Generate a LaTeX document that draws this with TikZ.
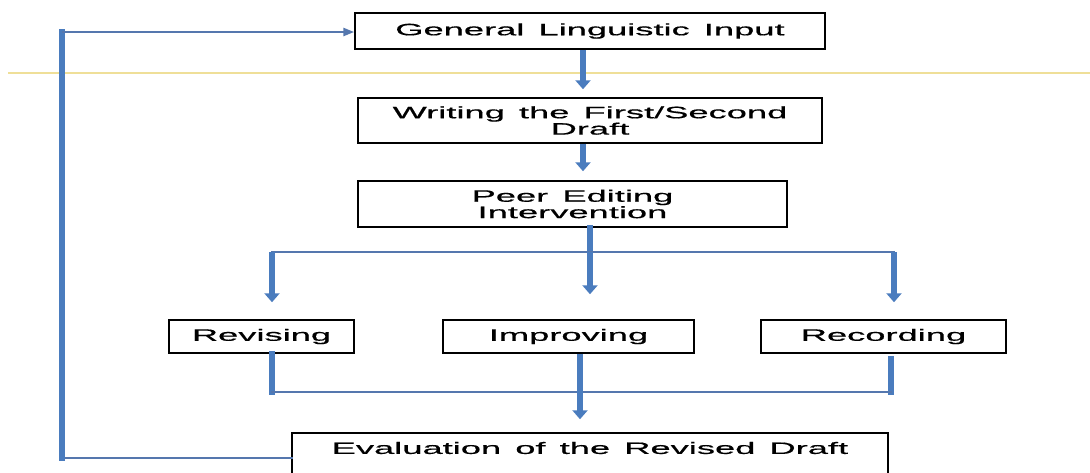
\documentclass[tikz,border=0pt]{standalone}
\usepackage{fontspec}
\setmainfont[FakeStretch=2.2,WordSpace=1.4,FakeBold=0.6]{Liberation Sans}
\usetikzlibrary{arrows.meta,calc}
\definecolor{flowblue}{HTML}{4A7CBE}
\definecolor{barblue}{HTML}{5577AE}
\definecolor{paleyellow}{HTML}{EFDF98}
\tikzset{
  box/.style={draw=black, line width=1.5pt, fill=white, inner sep=0pt, align=center,
    font=\fontsize{16.5}{13.5}\selectfont},
  txt/.style={inner sep=0pt, align=center, font=\fontsize{16.5}{13.5}\selectfont},
  shaft/.style={draw=flowblue, line width=5.5pt, line cap=rect},
  varrow/.style={draw=flowblue, line width=5.5pt, -{Triangle[width=15pt,length=9pt]}},
  bar/.style={draw=barblue, line width=2.5pt, line cap=rect},
  thinarrow/.style={draw=barblue, line width=2.5pt, -{Triangle[width=8pt,length=11pt]}}
}
\begin{document}
\begin{tikzpicture}[x=1pt,y=-1pt]
\useasboundingbox (0,0) rectangle (1090,472);
\clip (0,0) rectangle (1090,472);
\fill[white] (0,0) rectangle (1090,472);
\draw[paleyellow, line width=1.2pt] (8,73) -- (1090,73);

\node[box, minimum width=470pt, minimum height=36pt] (b1) at (590,31) {General Linguistic Input};
\node[box, minimum width=464pt, minimum height=45pt] (b2) at (590,120.5) {Writing the First/Second\\Draft};
\node[box, minimum width=429pt, minimum height=46pt] (b3) at (572.5,204) {Peer Editing\\Intervention};
\node[box, minimum width=185pt, minimum height=33pt] (rev) at (261.5,336.5) {Revising};
\node[box, minimum width=251pt, minimum height=33pt] (imp) at (568.5,336.5) {Improving};
\node[box, minimum width=245pt, minimum height=33pt] (rec) at (883.5,336.5) {Recording};
\node[box, minimum width=596pt, minimum height=60pt] (eval) at (590,463) {};
\node[txt] (evaltxt) at (590,448) {Evaluation of the Revised Draft};

% main chain
\coordinate (a1) at ($(b1.south)+(-7,0)$);
\draw[varrow, shorten >=8pt] (a1) -- (a1 |- b2.north);
\coordinate (a2) at ($(b2.south)+(-7,0)$);
\draw[varrow, shorten >=9pt] (a2) -- (a2 |- b3.north);

% split
\coordinate (s0) at ($(b3.south)+(17.5,0)$);
\coordinate (split) at (590,252);
\coordinate (sL) at (272,252);
\coordinate (sR) at (894,252);
\draw[shaft] (s0) -- (split);
\draw[bar] (sL) -- (sR);
\draw[varrow, shorten >=17pt] (sL) -- (sL |- rev.north);
\draw[varrow, shorten >=25pt] (split) -- (split |- imp.north);
\draw[varrow, shorten >=17pt] (sR) -- (sR |- rec.north);

% merge
\coordinate (mL) at (272,392);
\coordinate (mR) at (891,392);
\coordinate (mC) at (580,353);
\draw[shaft] (rev.south -| mL) -- (mL);
\draw[shaft] ($(rec.south -| mR)+(0,5)$) -- (mR);
\draw[bar] (mL) -- (mR);
\draw[varrow, shorten >=13pt] (imp.south -| mC) -- (mC |- eval.north);

% feedback loop
\coordinate (fbB) at (62,458);
\coordinate (fbT) at (62,32);
\draw[bar] (eval.west |- fbB) -- (fbB);
\draw[shaft] (fbB) -- (fbT);
\draw[thinarrow] (fbT) -- (b1.west |- fbT);
\end{tikzpicture}
\end{document}
